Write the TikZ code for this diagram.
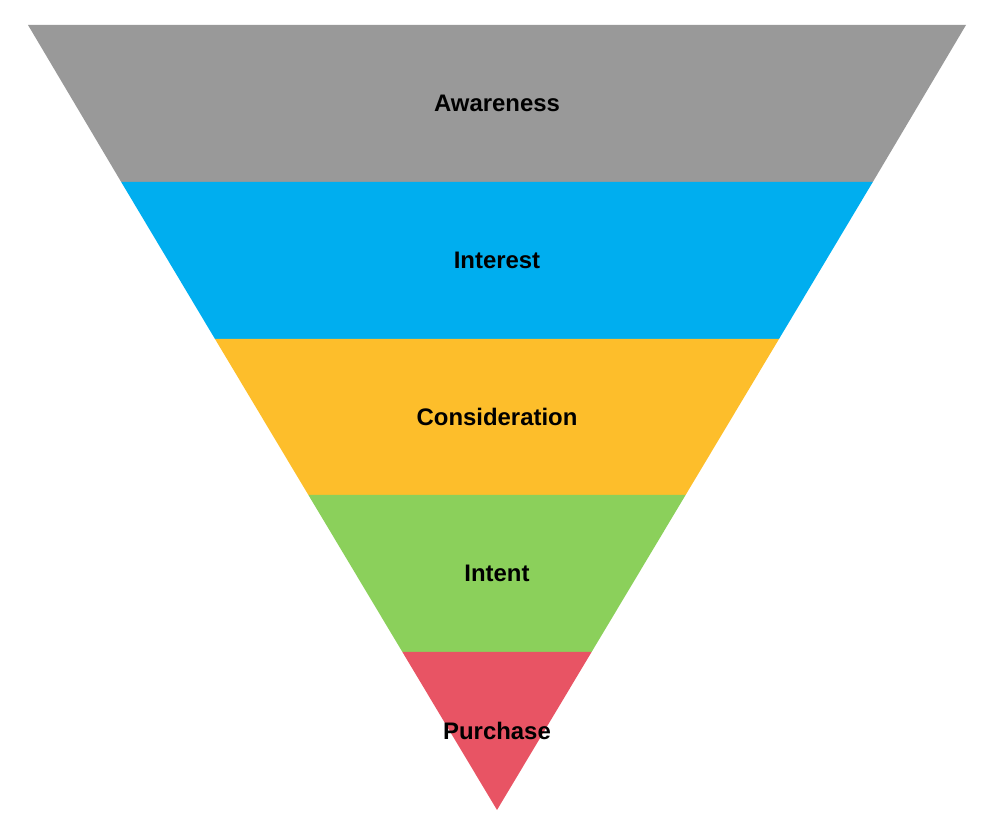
\documentclass[tikz,border=0pt]{standalone}
\usepackage{fontspec}
\setmainfont{Liberation Sans}
\usepackage{tikz}
\definecolor{stagegray}{HTML}{999999}
\definecolor{stageblue}{HTML}{00AEEF}
\definecolor{stageyellow}{HTML}{FDBE2B}
\definecolor{stagegreen}{HTML}{8BD05B}
\definecolor{stagered}{HTML}{E85464}
\tikzset{
  band/.style={draw=none},
  stagelabel/.style={font=\fontsize{17}{20}\selectfont\bfseries, text=black, inner sep=0pt},
}

\begin{document}
\begin{tikzpicture}[x=0.025cm, y=-0.025cm]
  \useasboundingbox (0,0) rectangle (1008,826);
  % funnel bands
  \fill[band, stagegray]   (28,25)    -- (966,25)    -- (872.8,182) -- (121.2,182) -- cycle;
  \fill[band, stageblue]   (121.2,182) -- (872.8,182) -- (779,339)   -- (215,339)   -- cycle;
  \fill[band, stageyellow] (215,339)   -- (779,339)   -- (685.6,495) -- (308.4,495) -- cycle;
  \fill[band, stagegreen]  (308.4,495) -- (685.6,495) -- (591.6,652) -- (402.4,652) -- cycle;
  \fill[band, stagered]    (402.4,652) -- (591.6,652) -- (497,810)   -- cycle;
  % labels
  \node[stagelabel] (aware)    at (497,103.5) {Awareness};
  \node[stagelabel] (interest) at (497,260.5) {Interest};
  \node[stagelabel] (consid)   at (497,417)   {Consideration};
  \node[stagelabel] (intent)   at (497,573.5) {Intent};
  \node[stagelabel] (purchase) at (497,731)   {Purchase};
\end{tikzpicture}
\end{document}
